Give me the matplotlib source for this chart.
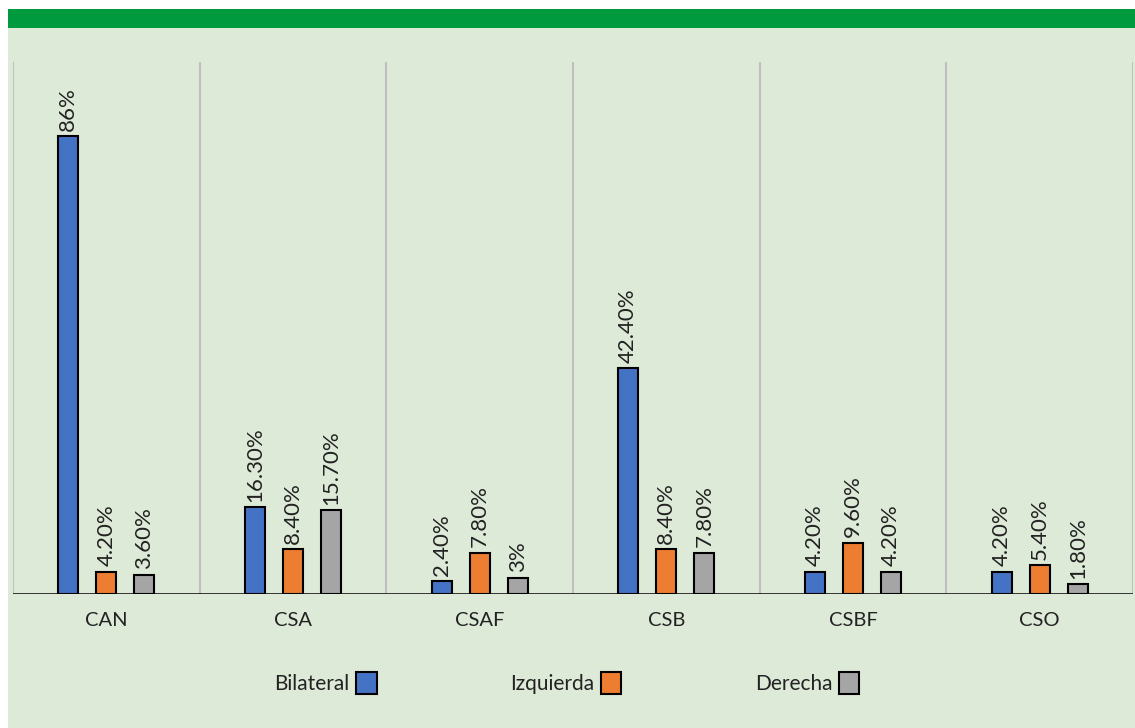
import matplotlib.pyplot as plt
from matplotlib.patches import Rectangle
import numpy as np

# data tables
categories = ['CAN', 'CSA', 'CSAF', 'CSB', 'CSBF', 'CSO']
series = ['Bilateral', 'Izquierda', 'Derecha']
bilateral = [86, 16.3, 2.4, 42.4, 4.2, 4.2]
izquierda = [4.2, 8.4, 7.8, 8.4, 9.6, 5.4]
derecha = [3.6, 15.7, 3, 7.8, 4.2, 1.8]
bilateral_labels = ['86%', '16.30%', '2.40%', '42.40%', '4.20%', '4.20%']
izquierda_labels = ['4.20%', '8.40%', '7.80%', '8.40%', '9.60%', '5.40%']
derecha_labels = ['3.60%', '15.70%', '3%', '7.80%', '4.20%', '1.80%']

colors = ['#4472C4', '#ED7D31', '#A5A5A5']
plt.rcParams['font.family'] = ['Lato', 'DejaVu Sans']

fig = plt.figure(figsize=(11.35, 7.28), dpi=100)
# light green panel and green top band
fig.patches.append(Rectangle((8 / 1135, 0), 1, 700 / 728, transform=fig.transFigure,
                             facecolor='#DEEAD8', edgecolor='none', zorder=-10))
fig.patches.append(Rectangle((8 / 1135, 700 / 728), 1, 19 / 728, transform=fig.transFigure,
                             facecolor='#009A3E', edgecolor='none', zorder=-10))

ax = fig.add_axes([13 / 1135, 134 / 728, 1120 / 1135, 532 / 728])
ax.set_zorder(1)
ax.set_facecolor('none')

x = np.arange(len(categories))
width = 0.107
offset = 0.204
values = [bilateral, izquierda, derecha]
labels = [bilateral_labels, izquierda_labels, derecha_labels]
handles = []
for i in range(3):
    bars = ax.bar(x + (i - 1) * offset, values[i], width, color=colors[i],
                  edgecolor='black', linewidth=1.5, label=series[i], zorder=3)
    handles.append(bars)
    for b, lab in zip(bars, labels[i]):
        ax.annotate(lab, (b.get_x() + b.get_width() / 2, b.get_height()),
                    xytext=(0, 4), textcoords='offset points', rotation=90,
                    ha='center', va='bottom', fontsize=16, color='#222222')

ax.set_xlim(-0.5, len(categories) - 0.5)
ax.set_ylim(0, 100)
# vertical separators between categories
for xv in np.arange(-0.5, len(categories), 1):
    ax.axvline(xv, color='#BFBFBF', linewidth=1.5, zorder=1)
ax.axhline(0, color='black', linewidth=1.8, zorder=4)

for s in ax.spines.values():
    s.set_visible(False)
ax.set_yticks([])
ax.set_xticks(x)
ax.set_xticklabels(categories, fontsize=14.5, color='#222222')
ax.tick_params(axis='x', length=0, pad=13)

leg = ax.legend(handles=handles, ncol=3, frameon=False, markerfirst=False,
                loc='center', bbox_to_anchor=(554 / 1120, -89 / 532),
                fontsize=15, handlelength=1.0, handleheight=1.2,
                handletextpad=0.3, columnspacing=6.4)
for t in leg.get_texts():
    t.set_color('#222222')

plt.savefig('out.png', dpi=100)
